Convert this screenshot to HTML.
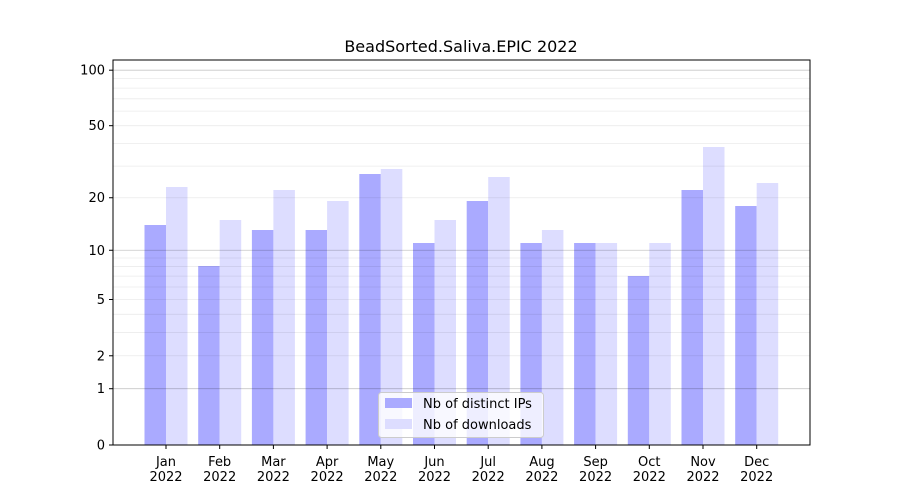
<!DOCTYPE html>
<html><head><meta charset="utf-8"><style>
body{margin:0;background:#fff}
svg{display:block;font-family:"DejaVu Sans","Liberation Sans",sans-serif}
</style></head><body>
<svg id="s" width="900" height="500" viewBox="0 0 900 500" xmlns="http://www.w3.org/2000/svg"></svg>
<script>
const s=document.getElementById('s');
let h='';
const Y=v=>445-187*Math.log10(1+v);
// bars
const dk=[225,266,230,230,174,243,201,243,243,276,190,206];
const lt=[187,220,190,201,169,220,177,230,243,243,147,183];
const mon=['Jan','Feb','Mar','Apr','May','Jun','Jul','Aug','Sep','Oct','Nov','Dec'];
for(let i=0;i<12;i++){
 const c=166+i*53.7;
 h+=`<rect x="${c-21.5}" y="${dk[i]}" width="21.5" height="${445-dk[i]}" fill="#aaaaff"/>`;
 h+=`<rect x="${c}" y="${lt[i]}" width="21.5" height="${445-lt[i]}" fill="#ddddff"/>`;
 h+=`<line x1="${c}" x2="${c}" y1="445" y2="449" stroke="#000"/>`;
 h+=`<text x="${c}" y="466" font-size="13" text-anchor="middle">${mon[i]}</text><text x="${c}" y="481" font-size="13" text-anchor="middle">2022</text>`;
}
// grid on top
const minors=[];
for(let d of [1,10]) for(let m=2;m<=9;m++) minors.push(m*d);
minors.push(200);
for(const v of minors){const y=Y(v);if(y>60)h+=`<line x1="113" x2="810" y1="${y}" y2="${y}" stroke="#000" stroke-opacity="0.08" stroke-width="0.8"/>`;}
for(const v of [1,10,100]){h+=`<line x1="113" x2="810" y1="${Y(v)}" y2="${Y(v)}" stroke="#000" stroke-opacity="0.22" stroke-width="0.8"/>`;}
// y ticks
for(const v of [0,1,2,5,10,20,50,100]){const y=Y(v);
 h+=`<line x1="109" x2="113" y1="${y}" y2="${y}" stroke="#000"/><text x="105" y="${y+4.5}" font-size="13" text-anchor="end">${v}</text>`;}
h+=`<rect x="113" y="60" width="697" height="385" fill="none" stroke="#000" stroke-width="1"/>`;
h+=`<text x="461" y="52" font-size="16" text-anchor="middle">BeadSorted.Saliva.EPIC 2022</text>`;
// legend
h+=`<rect x="378.5" y="392.5" width="165" height="45" rx="3" fill="#fff" fill-opacity="0.8" stroke="#ccc"/>`;
h+=`<rect x="385" y="398" width="27" height="10" fill="#aaaaff"/><text x="423" y="408" font-size="13">Nb of distinct IPs</text>`;
h+=`<rect x="385" y="419" width="27" height="10" fill="#ddddff"/><text x="423" y="429" font-size="13">Nb of downloads</text>`;
s.innerHTML=h;
</script>
</body></html>
